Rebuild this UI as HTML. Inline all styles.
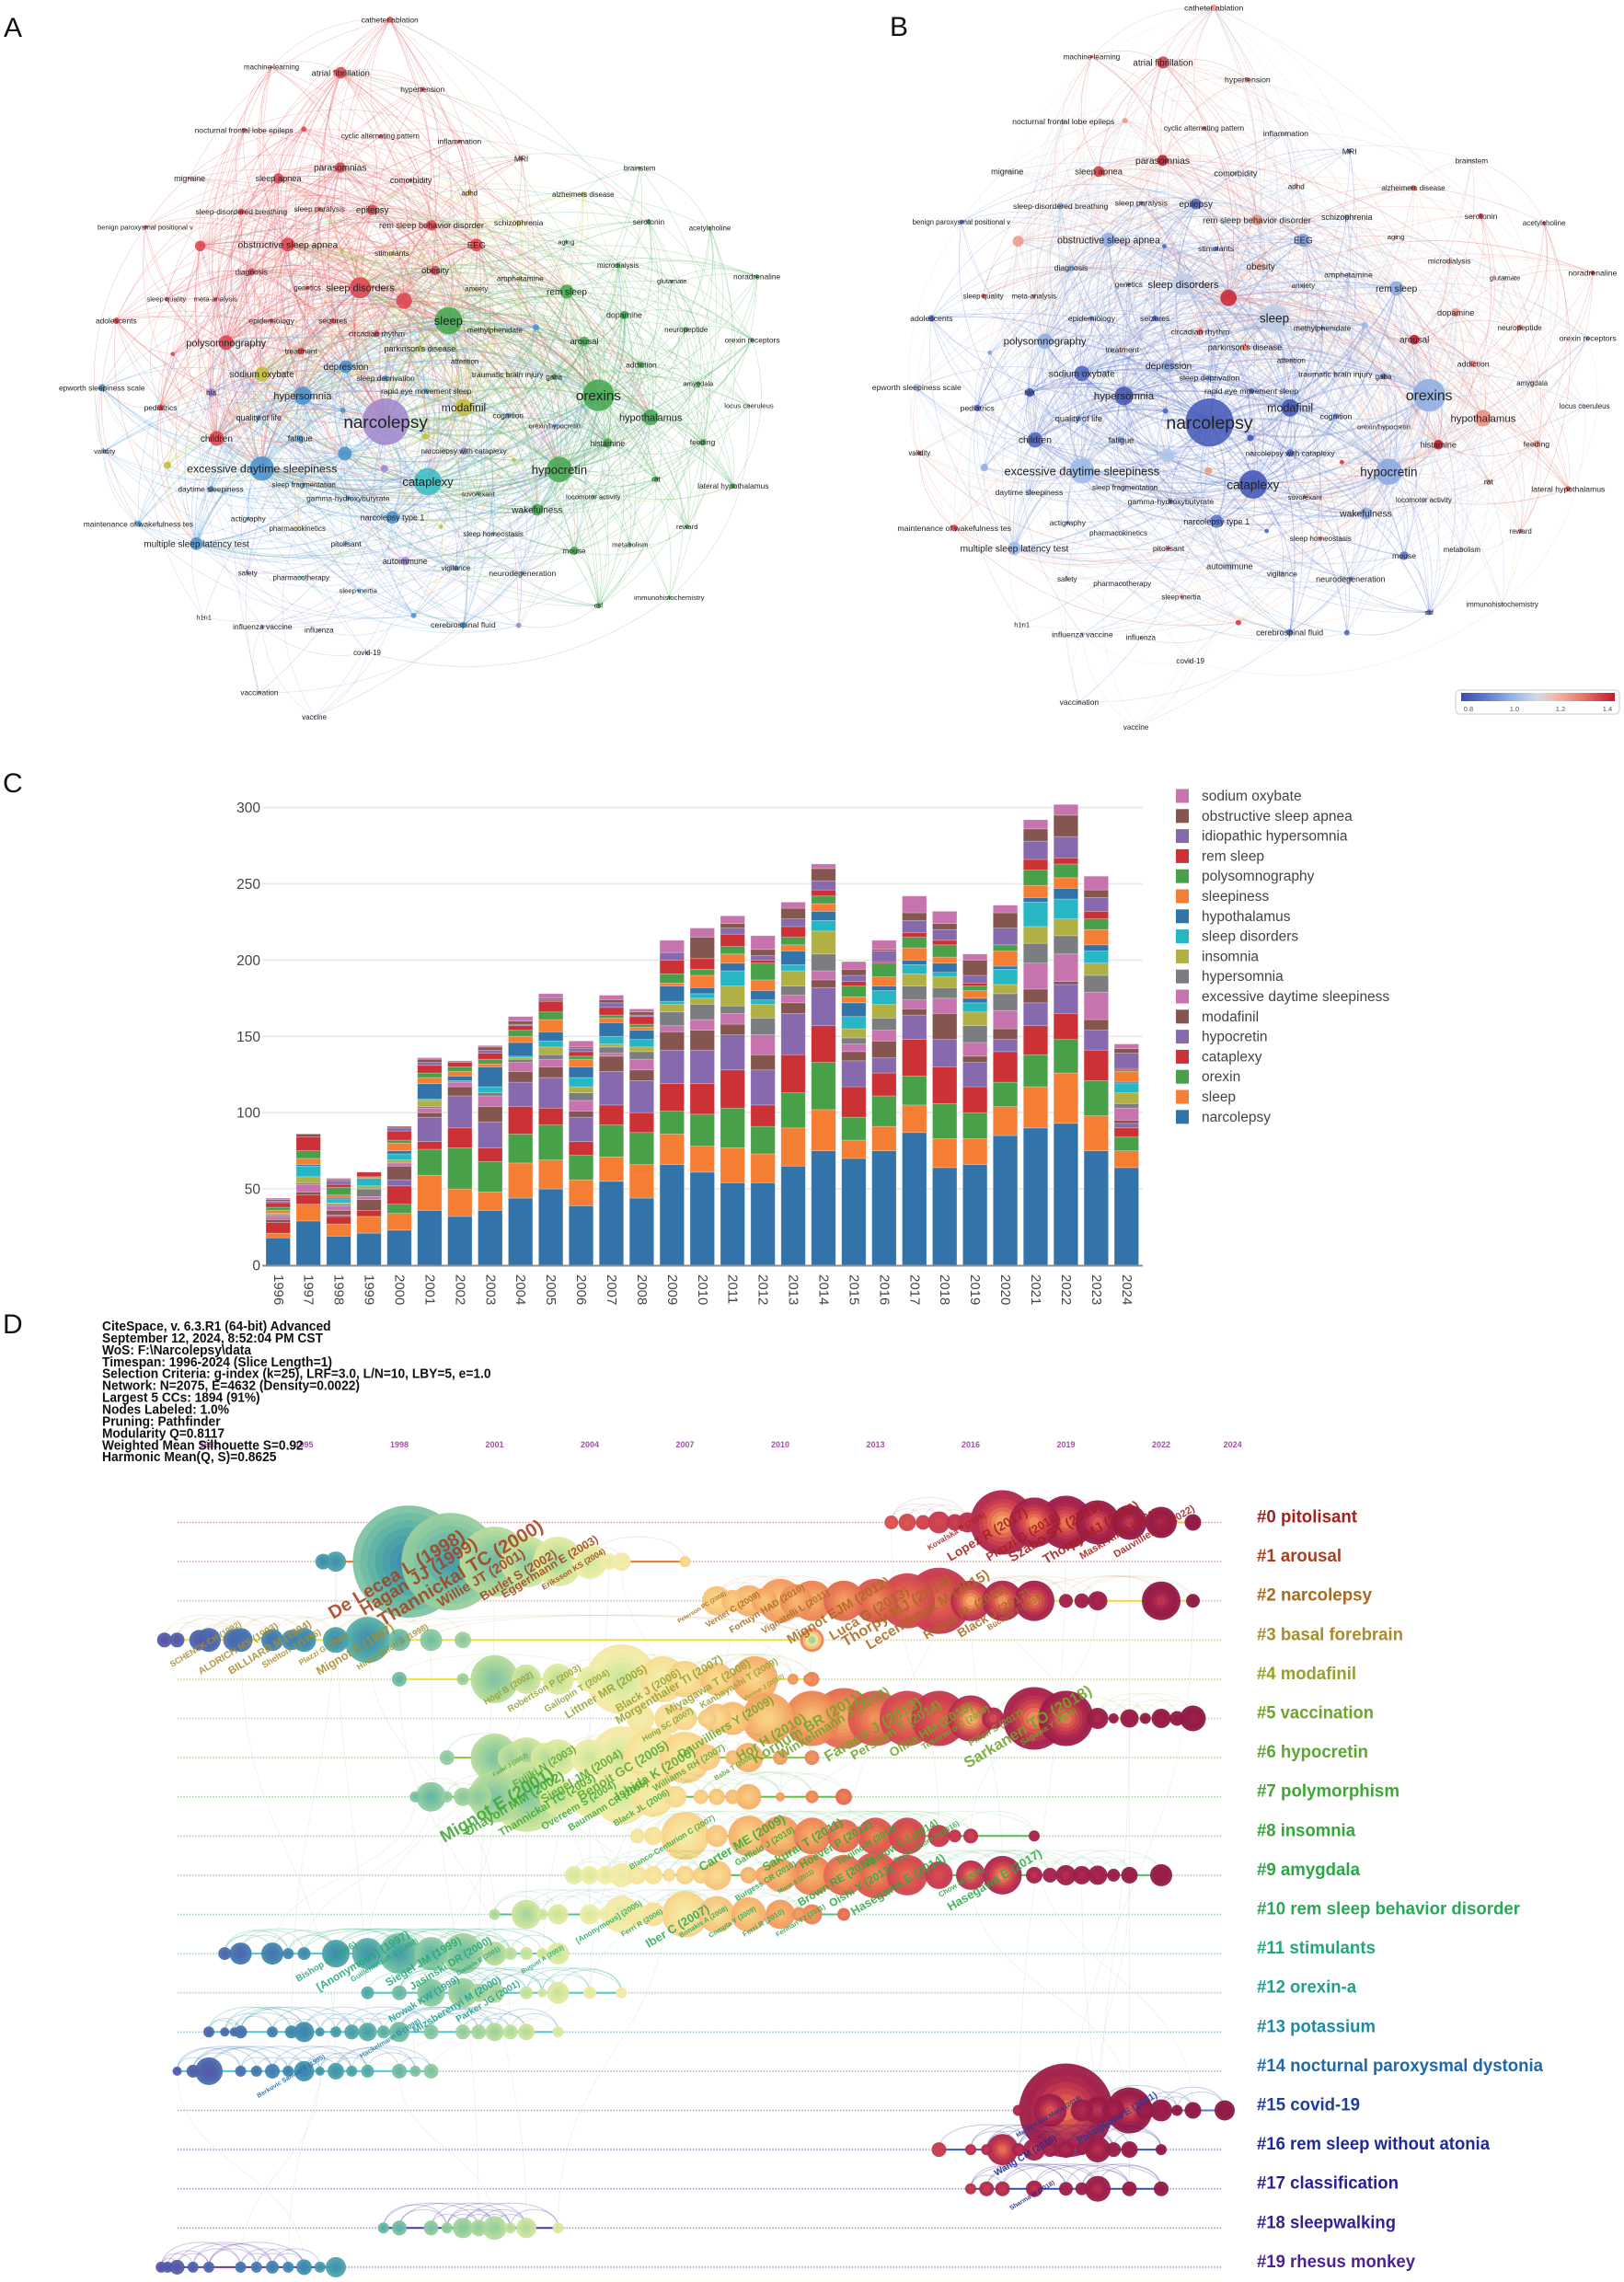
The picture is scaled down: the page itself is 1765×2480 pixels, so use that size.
<!DOCTYPE html>
<html lang="en">
<head>
<meta charset="utf-8">
<title>Narcolepsy bibliometric figure</title>
<style>
html,body{margin:0;padding:0;background:#fff;}
#figure{display:block;width:1765px;height:2480px;font-family:"Liberation Sans",sans-serif;}
</style>
</head>
<body>
<svg id="figure" xmlns="http://www.w3.org/2000/svg" width="1765" height="2480" viewBox="0 0 1765 2480">
  <rect width="1765" height="2480" fill="#fff"/>
  <defs>
    <linearGradient id="overlayGradient" x1="0" x2="1" y1="0" y2="0">
      <stop offset="0" stop-color="#3b4cb0"/><stop offset=".17" stop-color="#5f7fd0"/><stop offset=".35" stop-color="#9bb9e8"/>
      <stop offset=".5" stop-color="#d3dbe5"/><stop offset=".62" stop-color="#f1b8a4"/><stop offset=".78" stop-color="#ea7c6e"/><stop offset="1" stop-color="#c4182e"/>
    </linearGradient>
  </defs>
  <text x="4" y="40" font-size="30" fill="#111">A</text>
  <text x="967" y="39" font-size="30" fill="#111">B</text>
  <text x="3" y="861" font-size="30" fill="#111">C</text>
  <text x="3" y="1449" font-size="30" fill="#111">D</text>
  <g id="panelA"></g>
  <g id="panelB"></g>
  <g id="colorbar">
    <rect x="1582" y="750" width="178" height="26" rx="5" fill="#fff" stroke="#dcdcdc" stroke-width="1.5"/>
    <rect x="1588" y="753" width="167" height="9" fill="url(#overlayGradient)"/>
    <text x="1596" y="773" font-size="7.5" text-anchor="middle" fill="#555">0.8</text>
    <text x="1646" y="773" font-size="7.5" text-anchor="middle" fill="#555">1.0</text>
    <text x="1696" y="773" font-size="7.5" text-anchor="middle" fill="#555">1.2</text>
    <text x="1747" y="773" font-size="7.5" text-anchor="middle" fill="#555">1.4</text>
  </g>
  <g id="panelC"></g>
  <g id="panelD"></g>
</svg>
<script>
/* ---------- Panel C data ---------- */
const years = [1996,1997,1998,1999,2000,2001,2002,2003,2004,2005,2006,2007,2008,2009,2010,2011,2012,2013,2014,2015,2016,2017,2018,2019,2020,2021,2022,2023,2024];
const yTicks = [0,50,100,150,200,250,300];
const narcolepsyCounts = [18,29,19,21,23,36,32,36,44,50,39,55,44,66,61,54,54,65,75,70,75,87,64,66,85,90,93,75,64];
const sleepCounts = [3,11,8,11,11,23,18,12,23,19,17,16,22,20,17,23,19,25,27,12,16,18,19,17,19,27,33,23,11];
const orexinCounts = [0,0,0,0,6,17,27,20,19,23,16,21,21,15,21,26,18,23,31,15,20,19,23,17,16,21,22,23,9];
const cataplexyCounts = [7,6,5,4,12,5,13,9,18,11,9,13,13,18,20,25,14,25,24,20,15,24,24,17,20,19,17,20,6];
const hypocretinCounts = [0,0,1,0,4,16,21,17,16,20,16,22,21,22,22,23,23,27,25,17,10,16,18,16,8,15,19,13,3];
const modafinilCounts = [2,2,3,7,9,3,6,10,7,7,4,10,7,12,13,7,10,7,5,6,11,4,17,4,7,9,2,7,2];
const edsCounts = [2,5,3,2,2,3,3,7,6,5,7,2,7,4,7,7,13,5,6,5,7,6,10,9,12,17,18,18,8];
const hypersomniaCounts = [1,1,1,5,0,1,0,2,2,3,5,4,5,9,10,5,11,6,11,4,8,9,7,11,11,13,12,11,3];
const insomniaCounts = [1,4,1,2,2,4,0,0,1,5,4,2,3,5,4,13,9,10,15,6,9,8,7,9,6,11,11,8,7];
const sleepDisordersCounts = [0,7,2,5,4,1,1,4,1,4,6,5,5,2,3,10,3,4,7,8,9,6,3,6,10,16,13,8,6];
const hypothalamusCounts = [0,1,1,0,2,10,3,13,9,6,7,9,6,10,4,5,6,9,6,9,3,3,6,3,2,3,7,4,1];
const sleepinessCounts = [2,4,2,1,5,4,3,2,4,8,5,3,2,2,8,6,7,4,5,4,6,8,4,5,10,8,7,10,7];
const polysomnographyCounts = [2,5,5,0,2,3,3,3,4,5,2,2,2,6,4,5,11,5,5,7,9,7,8,3,4,10,9,7,1];
const remSleepCounts = [3,9,2,3,6,5,3,4,3,7,3,5,5,9,7,8,2,7,4,3,1,3,3,2,0,7,4,5,1];
const idiopathicCounts = [1,0,2,0,2,2,0,2,1,1,2,3,1,5,0,4,3,5,6,4,7,8,7,5,11,12,14,9,10];
const osaCounts = [1,2,1,0,1,2,0,2,2,1,1,2,2,0,14,3,4,7,8,4,1,5,4,10,10,8,14,5,3];
const sodiumOxybateCounts = [1,0,1,0,0,1,1,1,3,3,4,3,2,8,6,5,9,4,3,5,6,11,8,4,5,6,7,9,3];
const seriesNames = ["narcolepsy","sleep","orexin","cataplexy","hypocretin","modafinil","excessive daytime sleepiness","hypersomnia","insomnia","sleep disorders","hypothalamus","sleepiness","polysomnography","rem sleep","idiopathic hypersomnia","obstructive sleep apnea","sodium oxybate"];
const seriesValues = [narcolepsyCounts,sleepCounts,orexinCounts,cataplexyCounts,hypocretinCounts,modafinilCounts,edsCounts,hypersomniaCounts,insomniaCounts,sleepDisordersCounts,hypothalamusCounts,sleepinessCounts,polysomnographyCounts,remSleepCounts,idiopathicCounts,osaCounts,sodiumOxybateCounts];

/* ---------- Panels A/B keyword data: label, map x, map y, weight, cluster, label size, average citation score ---------- */
const keywordNodes = [
["catheter ablation",738,42,6,"R",8,1.2],["atrial fibrillation",645,155,11,"R",9,1.35],["machine learning",514,143,3,"R",7.5,1.35],["hypertension",800,190,4,"R",8,1.3],
["nocturnal frontal lobe epileps",462,277,4,"R",8,1.0],["",575,275,5,"R",0,1.2],["cyclic alternating pattern",720,290,3,"R",7.5,1.35],["inflammation",870,301,3,"R",8,1.05],
["MRI",987,338,4,"R",8,.85],["parasomnias",644,357,10,"R",9.5,1.4],["migraine",359,380,2,"R",8.5,.95],["sleep apnea",527,380,10,"R",8.8,1.35],["comorbidity",778,384,3,"R",8.5,1.0],
["sleep-disordered breathing",457,451,6,"R",8,.98],["sleep paralysis",605,445,3,"R",8,.85],["epilepsy",705,447,10,"R",9.2,.85],["benign paroxysmal positional v",275,484,4,"R",7.2,.85],
["rem sleep behavior disorder",817,480,10,"R",8.8,1.22],["",379,524,10,"R",0,1.2],["obstructive sleep apnea",545,521,13,"R",9.8,.98],["EEG",902,522,12,"R",9,.95],
["diagnosis",476,579,7,"R",8,1.0],["obesity",824,576,9,"R",9,1.15],["genetics",582,613,3,"R",7.5,.88],["sleep disorders",682,613,20,"R",10.5,1.05],["",765,641,15,"R",0,1.38],
["sleep quality",315,637,4,"R",7.3,1.35],["meta-analysis",408,637,3,"R",7.3,1.3],["adolescents",220,683,6,"R",8,.85],["epidemiology",514,683,4,"R",8,.9],["seizures",630,683,5,"R",8,.82],
["circadian rhythm",713,711,6,"R",8,1.28],["polysomnography",428,730,14,"R",10.5,.98],["treatment",570,748,7,"R",8,1.12],["pediatrics",304,868,6,"R",8,.85],["children",410,934,14,"R",9.5,.85],["",327,754,4,"R",0,.95],
["sleep",849,683,26,"G",12.5,1.05],["brainstem",1211,358,3,"G",7.5,1.12],["serotonin",1228,472,5,"G",8,1.33],["acetylcholine",1344,486,3,"G",7.5,1.4],["aging",1072,515,3,"G",7,1.18],
["microdialysis",1170,565,4,"G",7.5,1.15],["glutamate",1272,599,3,"G",7,1.0],["noradrenaline",1433,589,4,"G",8,1.38],["rem sleep",1073,621,13,"G",9.5,.97],["dopamine",1182,671,8,"G",8.5,1.2],
["neuropeptide",1299,702,5,"G",7.7,1.3],["orexin receptors",1424,724,4,"G",8,.95],["arousal",1106,727,9,"G",9,1.4],["addiction",1214,777,6,"G",8,1.25],["gaba",1049,803,5,"G",7.5,.85],
["amygdala",1322,817,4,"G",7.2,1.15],["locus coeruleus",1418,864,2,"G",7.3,1.02],["orexins",1133,842,30,"G",14.5,.98],["hypothalamus",1232,889,15,"G",10.5,1.22],["histamine",1150,944,9,"G",8.5,1.4],
["feeding",1330,942,6,"G",8,1.22],["hypocretin",1059,1000,24,"G",12.5,.97],["rat",1242,1020,5,"G",8,1.2],["lateral hypothalamus",1388,1035,5,"G",8,1.33],["locomotor activity",1123,1058,3,"G",7.3,1.0],
["wakefulness",1017,1086,11,"G",9.5,.97],["reward",1301,1122,4,"G",7.3,1.3],["mouse",1087,1173,8,"G",8,.88],["metabolism",1193,1160,3,"G",7.3,1.02],["immunohistochemistry",1267,1273,3,"G",7.3,1.03],
["csf",1133,1290,5,"G",7,.85],["suvorexant",905,1052,3,"G",7,1.35],
["adhd",889,411,4,"Y",7.5,1.15],["alzheimers disease",1104,414,5,"Y",7.5,1.33],["schizophrenia",982,474,5,"Y",8.3,.95],["stimulants",742,539,4,"Y",8,.85],["",647,534,4,"Y",0,.85],
["amphetamine",985,593,4,"Y",8,1.0],["anxiety",902,615,3,"Y",7.5,.98],["methylphenidate",937,703,3,"Y",7.8,.85],["parkinson's disease",795,743,6,"Y",8.5,1.25],["attention",880,770,3,"Y",7.5,.95],
["traumatic brain injury",961,798,3,"Y",8,.95],["sodium oxybate",496,797,14,"Y",9.5,.85],["modafinil",878,868,16,"Y",11.5,.82],["",805,930,6,"Y",0,.82],["",973,980,4,"Y",0,1.35],["",317,991,7,"Y",0,.98],
["",835,1122,4,"Y",0,.85],["pharmacokinetics",563,1126,3,"Y",7.5,1.05],
["epworth sleepiness scale",193,826,7,"B",8,1.03],["depression",655,781,12,"B",9.5,.97],["sleep deprivation",730,806,5,"B",8,.95],["rapid eye movement sleep",807,833,5,"B",8,.85],
["hypersomnia",573,843,17,"B",10.5,.82],["quality of life",490,890,5,"B",8.5,.9],["",649,874,5,"B",0,.85],["cognition",962,885,5,"B",8,.9],["orexin/hypocretin",1050,907,3,"B",7,1.05],
["fatigue",568,934,6,"B",8.5,.95],["validity",198,961,4,"B",7.2,1.35],["excessive daytime sleepiness",496,998,23,"B",11.8,1.0],["",653,966,13,"B",0,1.03],["",1015,697,6,"B",0,1.0],
["sleep fragmentation",575,1032,3,"B",7.5,1.0],["daytime sleepiness",399,1042,6,"B",8,1.02],["gamma-hydroxybutyrate",659,1061,4,"B",8,.85],["narcolepsy type 1",743,1102,12,"B",8.5,.88],
["maintenance of wakefulness tes",262,1116,6,"B",8,1.35],["multiple sleep latency test",372,1158,12,"B",9.5,1.0],["actigraphy",470,1105,3,"B",7.8,.85],["pitolisant",655,1158,3,"B",8,1.38],
["sleep homeostasis",934,1137,3,"B",7.5,1.3],["vigilance",863,1210,5,"B",7.8,1.02],["sleep inertia",678,1258,3,"B",7.3,1.3],["cerebrospinal fluid",877,1331,6,"B",8.3,.85],["",783,1311,5,"B",0,1.35],
["cataplexy",810,1026,26,"C",12.5,.82],["pharmacotherapy",570,1230,3,"C",7.5,1.05],
["narcolepsy",730,898,44,"P",18,.83],["hla",400,836,8,"P",8,.82],["narcolepsy with cataplexy",878,961,7,"P",7.8,.85],["",728,998,7,"P",0,1.2],["autoimmune",767,1195,8,"P",8.5,1.05],
["neurodegeneration",989,1221,4,"P",8.3,.9],["safety",469,1221,3,"P",7.5,1.2],["h1n1",386,1315,2,"P",7,1.03],["influenza vaccine",497,1335,4,"P",8,1.03],["influenza",604,1342,2,"P",7.5,1.25],
["",982,1332,5,"P",0,.85],["covid-19",695,1390,3,"P",7.5,1.05],["vaccination",491,1475,3,"P",7.8,1.02],["vaccine",595,1527,2,"P",7.5,1.02]
];
const clusterEdge = {R:"#e8606a",G:"#58b368",B:"#64a4dc",Y:"#d2cc5a",C:"#4cc4cc",P:"#ab95d4"};
const clusterNode = {R:"#dc4450",G:"#46a851",B:"#4a92cc",Y:"#c4bc3c",C:"#3cbcc4",P:"#a088cc"};

/* ---------- Panel D data ---------- */
const clusterNames = ["#0 pitolisant","#1 arousal","#2 narcolepsy","#3 basal forebrain","#4 modafinil","#5 vaccination","#6 hypocretin","#7 polymorphism","#8 insomnia","#9 amygdala","#10 rem sleep behavior disorder","#11 stimulants","#12 orexin-a","#13 potassium","#14 nocturnal paroxysmal dystonia","#15 covid-19","#16 rem sleep without atonia","#17 classification","#18 sleepwalking","#19 rhesus monkey"];
const clusterLabelWidths = [109,92,125,159,108,127,121,155,107,112,286,129,108,129,311,112,253,154,151,172];
const clusterColors = ["#a51f1f","#a5411f","#a86a20","#a88c2b","#96a02c","#70a52b","#5aa82f","#3da832","#33a838","#2aa845","#2aa85a","#22a878","#1fa08f","#1f8ba3","#1f69a8","#1f3c9a","#1f2a96","#281f96","#322296","#4d2296"];
const clusterLineColors = ["#f4c04a","#f07a20","#f4d83c","#f0e040","#f0e040","#c8d83c","#80c83c","#60c040","#50c050","#50c060","#50c090","#50c8c8","#50c8d0","#50c8d8","#50c8e0","#4a80d0","#3a5fb8","#3050b0","#443aa0","#6a3aa0"];
const timelineYearLabels = [1992,1995,1998,2001,2004,2007,2010,2013,2016,2019,2022,2024.25];
const timelineNodes = [
[[2013.5,7.5],[2014,9.5],[2014.5,8],[2015,12],[2015.5,9],[2015.9,11],[2017,35],[2018,27],[2019,29],[2020,24],[2021,19],[2022,17],[2023,9]],
[[1995.6,8.5],[1996,11],[1998.3,61],[1999.6,53],[2001,38],[2002,28],[2003,27],[2004,19],[2004.6,9],[2005,10],[2007,6]],
[[2008,16],[2008.5,12],[2009,17],[2009.5,14],[2010,24],[2010.5,18],[2011,22],[2012,22],[2013,24],[2014,30],[2015,36],[2016,22],[2017,22],[2018,22],[2019,7.5],[2019.5,8],[2020,10.5],[2022,21],[2023,7.5]],
[[1990.6,8],[1991,8],[1991.7,11],[1992,13],[1992.8,12],[1993,13],[1994,12],[1994.6,11],[1995,13],[1996,14],[1997,25],[1998,12],[1999,12],[2000,9],[2011,13,15]],
[[1998,8],[2000,6.5],[2001,26],[2002,16],[2003,17],[2004,14],[2005,38],[2006.3,25],[2007,20],[2008,18],[2009.2,25],[2010.4,6],[2010.9,6],[2011,8]],
[[2005.6,15],[2006.5,16],[2007,13],[2007.7,10],[2008,16],[2008.5,18],[2009.6,28],[2011,30],[2012,33],[2013,30],[2014,30],[2015,30],[2016,25],[2016.7,12],[2018,34],[2019,30],[2020,11.5],[2020.5,5.5],[2021,10],[2021.5,6],[2022,10.5],[2022.5,8],[2023,14]],
[[1999.5,8],[2001,26],[2001.5,14],[2002,22],[2002.6,16],[2003,20],[2004,20],[2005,34],[2006,32],[2007,28],[2007.7,14],[2008.5,8],[2009,16],[2010,8],[2011,8]],
[[1998.5,6],[1999,16],[1999.5,6],[2000,10],[2000.5,14],[2001,28],[2002,38],[2003,20],[2004,22],[2005,30],[2006,22],[2006.7,12],[2007.5,8],[2008,9],[2008.5,8],[2009,14],[2010,5],[2011,7],[2012,9]],
[[2005.5,8],[2006,10],[2007,26],[2008,12],[2009,22],[2010,22],[2011,20],[2012,18],[2013,20],[2014,20],[2015,12],[2015.5,7],[2016,8],[2018,6]],
[[2003.5,10],[2004,10],[2004.5,10],[2005,13],[2005.5,10],[2006,10],[2006.5,7],[2007,10],[2007.5,9],[2008,16],[2009,9],[2009.5,10],[2010,18],[2011,22],[2012,22],[2013,25],[2014,22],[2015,15],[2016,16],[2017,21],[2018,9],[2018.5,8],[2019,11],[2019.5,10],[2020,10.5],[2020.5,7],[2021,9],[2022,12]],
[[2001,6],[2002,16],[2002.5,6],[2003,11],[2004,11],[2004.5,8],[2005,20],[2005.5,12],[2006,13],[2007,25],[2008,20],[2009,19],[2010,16],[2010.6,8],[2011,11],[2012,7]],
[[1992.5,7],[1993,12],[1994,12],[1994.5,6],[1995,7],[1996,15],[1997,17],[1998,22],[1999,18],[2000,22],[2001,13],[2001.5,7],[2002,7],[2002.5,6],[2003,12]],
[[1997,7],[1998,8],[1999,15],[2000,16],[2000.5,10],[2001,11],[2002,7],[2002.5,5],[2003,12],[2004,7],[2005,6]],
[[1992,6],[1992.5,5],[1992.8,5],[1993,7],[1994,6],[1994.6,7],[1995,11],[1995.5,5],[1996,6],[1996.5,8],[1997,10],[1997.5,7],[1998,11],[1999,8],[2000,8],[2000.5,8],[2001,10],[2001.5,8],[2002,9],[2003,6]],
[[1991,5],[1991.5,7],[1992,15],[1993,6],[1993.5,6],[1994,8],[1994.5,6],[1995,11],[1995.5,5],[1996,9],[1996.5,6],[1997,7],[1998,8],[1998.5,6],[1999,8]],
[[2017.5,6],[2018.5,18],[2019,51],[2019.5,12],[2020,15],[2020.5,12],[2021,25],[2021.5,10],[2022,12],[2022.5,6],[2023,9],[2024,11]],
[[2015,8],[2016,6],[2016.5,6],[2017,17],[2017.5,7],[2018,12],[2018.5,8],[2019,9],[2019.5,6],[2020,14],[2020.5,8],[2021,9],[2022,6]],
[[2016,6],[2016.5,8],[2017,8],[2018,9],[2019,7.5],[2019.5,7],[2020,14],[2021,8],[2022,8]],
[[1997.5,6],[1998,8],[1999,8],[1999.5,6],[2000,11],[2000.5,9],[2001,13],[2001.5,6],[2002,11],[2003,6]],
[[1990.5,6],[1990.7,6],[1991,8],[1991.5,6],[1992,6],[1993,6],[1993.5,6],[1994,7],[1994.5,6],[1995,8.5],[1995.5,6],[1996,11]]
];
const citationLabels = [
[0,"Kovalska P (2016)",1010,1685,8.5],[0,"Lopez R (2017)",1033,1697,14],[0,"Plazzi G (2018)",1075,1697,13],[0,"Szabo ST (2019)",1100,1698,15],[0,"Thorpy MJ (2020)",1137,1700,14.5],[0,"Maski Kiran (2021)",1176,1695,11],[0,"Dauvilliers Y (2022)",1213,1693,11],
[1,"De Lecea L (1998)",362,1760,20],[1,"Hagan JJ (1999)",396,1756,19],[1,"Thannickal TC (2000)",416,1768,20.5],[1,"Willie JT (2001)",479,1747,15],[1,"Burlet S (2002)",525,1740,13.5],[1,"Eggermann E (2003)",548,1737,12.5],[1,"Eriksson KS (2004)",591,1728,8.7],
[2,"Peterson PC (2008)",738,1764,6.6],[2,"Vernet C (2009)",769,1769,9.3],[2,"Fortuyn HAD (2010)",795,1775,10],[2,"Vignatelli L (2011)",830,1776,10],[2,"Mignot EJM (2012)",859,1787,14.5],[2,"Luca G (2013)",905,1783,15],[2,"Thorpy MJ (2014)",919,1790,16.5],[2,"Lecendreux M (2015)",945,1793,15.5],[2,"Rocca FL (2016)",1007,1782,13.5],[2,"Black J (2017)",1044,1780,13.5],[2,"Büchele F (2018)",1075,1772,8.7],
[3,"SCHENCK CH (1992)",187,1812,9],[3,"ALDRICH MS (1993)",218,1820,10.5],[3,"BILLIARD M (1994)",251,1820,11.5],[3,"Shelton J (1995)",287,1813,9.5],[3,"Plazzi G (1996)",327,1810,8.5],[3,"Mignot E (1997)",347,1821,13],[3,"Hinze-Selch D (1998)",390,1815,9],
[4,"Högl B (2002)",528,1853,9.5],[4,"Robertson P (2003)",554,1861,10],[4,"Gallopin T (2004)",594,1861,10],[4,"Littner MR (2005)",617,1868,12.5],[4,"Black J (2006)",672,1861,12],[4,"Morgenthaler TI (2007)",672,1874,12.5],[4,"Miyagawa T (2008)",726,1864,12],[4,"Kanbayashi T (2009)",763,1857,10],[4,"Vienne J (2010)",809,1849,7],
[5,"Hong SC (2007)",700,1893,8.5],[5,"Dauvilliers Y (2009)",740,1911,13],[5,"Hor H (2010)",804,1914,14.5],[5,"Kornum BR (2011)",821,1917,16],[5,"Winkelmann J (2012)",849,1912,14],[5,"Faraco J (2013)",900,1915,16.5],[5,"Persson T (2014)",928,1913,14],[5,"Ollila HM (2015)",970,1910,13.8],[5,"Tesoriero C (2016)",1004,1902,9.7],[5,"Pillen S (2017)",1055,1898,10],[5,"Sarkanen TO (2018)",1052,1922,17],[5,"Sagawa Y (2018)",1111,1897,9],
[6,"Fadel J (2002)",537,1931,6.5],[6,"Fujiki N (2003)",560,1943,11.5],[6,"Siegel JM (2004)",591,1960,13],[6,"Benoit GC (2005)",631,1957,14],[6,"Ishida K (2006)",672,1957,14],[6,"Williams RH (2007)",712,1947,10],[6,"Baba T (2008)",778,1935,7.5],
[7,"Mignot E (2001)",483,2003,19],[7,"Ohayon MM (2002)",508,1996,14],[7,"Thannickal TC (2003)",545,1996,12],[7,"Overeem S (2004)",591,1989,11],[7,"Baumann CR (2005)",620,1990,10.5],[7,"Black JL (2006)",669,1985,9.5],
[8,"Blanco-Centurion C (2007)",686,2032,8.5],[8,"Carter ME (2009)",763,2034,13.5],[8,"Gaffield J (2010)",801,2028,9.5],[8,"Sakurai T (2011)",832,2034,13],[8,"Hoever P (2012)",872,2031,12],[8,"Toujino N (2013)",911,2027,9.7],[8,"Winrow CJ (2014)",942,2030,11],[8,"Bonaventure P (2016)",973,2025,8],
[9,"Burgess CR (2010)",801,2066,8.5],[9,"Morin S (2011)",847,2058,6.5],[9,"Brown RE (2012)",870,2072,12],[9,"Oishi Y (2013)",904,2073,12],[9,"Hasegawa E (2014)",928,2082,13],[9,"Chow M (2016)",1022,2062,8],[9,"Hasegawa E (2017)",1033,2077,13],
[10,"[Anonymous] (2005)",628,2112,8.5],[10,"Ferri R (2006)",677,2105,8],[10,"Iber C (2007)",705,2117,13],[10,"Bonakis A (2008)",740,2106,7.5],[10,"Compta Y (2009)",772,2106,7.5],[10,"Ferri R (2010)",809,2105,8],[10,"Ferman TJ (2011)",845,2105,7.5],
[11,"Bishop C (1996)",324,2154,10],[11,"[Anonymous] (1997)",347,2164,12],[11,"Guilleminault C (1998)",383,2154,8],[11,"Siegel JM (1999)",422,2159,12],[11,"Jasinski DR (2000)",448,2163,11.5],[11,"Daniels E (2001)",498,2147,7],[11,"Buguet A (2003)",568,2145,7],
[12,"Nowak KW (1999)",425,2198,10.5],[12,"Mizsberenyi M (2000)",451,2210,11],[12,"Parker JG (2001)",498,2198,10],
[13,"Hackelmann D (1998)",393,2237,7.5],[14,"Berkovic Samuel F (1995)",281,2280,7],
[15,"Marse Anne Marie (2019)",1106,2323,7],[15,"Postiglione E (2021)",1173,2330,10.5],[16,"Wang CM (2018)",1083,2365,10],[17,"Sharma M (2018)",1099,2402,7]
];
const headerLines = [["CiteSpace, v. 6.3.R1 (64-bit) Advanced",248.6],["September 12, 2024, 8:52:04 PM CST",240],["WoS: F:\\Narcolepsy\\data",162],["Timespan: 1996-2024 (Slice Length=1)",250],["Selection Criteria: g-index (k=25), LRF=3.0, L/N=10, LBY=5, e=1.0",422.5],["Network: N=2075, E=4632 (Density=0.0022)",280],["Largest 5 CCs: 1894 (91%)",171.6],["Nodes Labeled: 1.0%",138],["Pruning: Pathfinder",128.6],["Modularity Q=0.8117",133],["Weighted Mean Silhouette S=0.92",218.7],["Harmonic Mean(Q, S)=0.8625",189.4]];

/* ---------- helpers ---------- */
const NS = "http://www.w3.org/2000/svg";
function mk(tag, attrs, parent){
  const el = document.createElementNS(NS, tag);
  for (const k in attrs) el.setAttribute(k, attrs[k]);
  parent.appendChild(el);
  return el;
}
function slug(s){ return s.toLowerCase().replace(/[^a-z0-9]+/g,'-').replace(/^-|-$/g,''); }
function pairHash(a,b){ let h=(a*73856093 ^ b*19349663)>>>0; h=(h^(h>>>13))*1274126177>>>0; h=(h^(h>>>16))>>>0; return (h%10000)/10000; }
function hexToRgb(h){ return [parseInt(h.slice(1,3),16),parseInt(h.slice(3,5),16),parseInt(h.slice(5,7),16)]; }
function ramp(stops, v){
  if (v<=stops[0][0]) return stops[0][1];
  for (let i=1;i<stops.length;i++){
    if (v<=stops[i][0]){
      const t=(v-stops[i-1][0])/(stops[i][0]-stops[i-1][0]);
      const a=hexToRgb(stops[i-1][1]), b=hexToRgb(stops[i][1]);
      return "rgb("+a.map((c,k)=>Math.round(c+(b[k]-c)*t)).join(",")+")";
    }
  }
  return stops[stops.length-1][1];
}

/* ---------- Panels A and B ---------- */
const overlayStops = [[.8,"#3b4cb0"],[.9,"#5f7fd0"],[1,"#9bb9e8"],[1.08,"#d3dbe5"],[1.15,"#f1b8a4"],[1.25,"#ea7c6e"],[1.4,"#c4182e"]];
const nodePos = keywordNodes.map(n=>({x:n[1]/1.742,y:n[2]/1.96,r:n[3]/1.742}));
const edgePairs = [];
(function(){
  const deg = keywordNodes.map(()=>0), seen = {};
  function add(i,j){ const k=i+"_"+j; if(seen[k]) return; seen[k]=1; edgePairs.push([i,j]); deg[i]++; deg[j]++; }
  for (let i=0;i<keywordNodes.length;i++) for (let j=i+1;j<keywordNodes.length;j++){
    const a=keywordNodes[i], b=keywordNodes[j];
    const d=Math.hypot(nodePos[i].x-nodePos[j].x,nodePos[i].y-nodePos[j].y);
    const same=a[4]===b[4]?2.8:1;
    const p=Math.min(.95,.0085*a[3]*b[3]*same/(1+Math.pow(d/145,1.6)));
    if (pairHash(i+1,j+1)<p) add(i,j);
  }
  for (let i=0;i<keywordNodes.length;i++){
    const near=keywordNodes.map((n,j)=>[Math.hypot(nodePos[i].x-nodePos[j].x,nodePos[i].y-nodePos[j].y)/(1+n[3]/12),j]).filter(o=>o[1]!==i).sort((a,b)=>a[0]-b[0]);
    let c=0; while(deg[i]<4 && c<near.length){ const j=near[c++][1]; add(Math.min(i,j),Math.max(i,j)); }
  }
})();
function edgePath(ax,ay,bx,by,cx,cy){
  const mx=(ax+bx)/2,my=(ay+by)/2,dx=bx-ax,dy=by-ay;
  let nx=-dy*.24,ny=dx*.24;
  if (((mx+nx-cx)**2+(my+ny-cy)**2)<((mx-nx-cx)**2+(my-ny-cy)**2)){nx=-nx;ny=-ny;}
  return "M"+ax.toFixed(1)+" "+ay.toFixed(1)+"Q"+(mx+nx).toFixed(1)+" "+(my+ny).toFixed(1)+" "+bx.toFixed(1)+" "+by.toFixed(1);
}
function drawNetwork(parent, sx, ox, oy, overlay){
  const px=p=>p.x*sx+ox, py=p=>p.y*sx+oy;
  const hub=nodePos[keywordNodes.findIndex(n=>n[0]==="narcolepsy")];
  const cx=px(hub), cy=py(hub);
  const gE=mk("g",{},parent);
  
  
  edgePairs.forEach(pair=>{
    const i=pair[0],j=pair[1],a=keywordNodes[i],b=keywordNodes[j];
    const src=a[3]<=b[3]?a:b;
    const col=overlay?ramp(overlayStops,(a[6]+b[6])/2):clusterEdge[src[4]];
    const w=Math.min(2.2,.55+a[3]*b[3]/550);
    const e=mk("path",{d:edgePath(px(nodePos[i]),py(nodePos[i]),px(nodePos[j]),py(nodePos[j]),cx,cy),fill:"none",stroke:col,"stroke-width":w.toFixed(2),"stroke-opacity":overlay?.3:.34},gE);
    
    
  });
  const order=keywordNodes.map((n,i)=>i);
  order.forEach(i=>{
    const n=keywordNodes[i],p=nodePos[i];
    const c=mk("circle",{cx:px(p).toFixed(1),cy:py(p).toFixed(1),r:(p.r*sx).toFixed(1),fill:overlay?ramp(overlayStops,n[6]):clusterNode[n[4]],"fill-opacity":.88},parent);
    
    
  });
  order.forEach(i=>{
    const n=keywordNodes[i],p=nodePos[i];
    if(!n[0]) return;
    const fs=n[5]*sx*1.05;
    const t=mk("text",{x:px(p).toFixed(1),y:(py(p)+fs*.35).toFixed(1),"font-size":fs.toFixed(1),"text-anchor":"middle",fill:"#222"},parent);
    t.textContent=n[0];
    
    
  });
}
drawNetwork(document.getElementById('panelA'),1,0,0,false);
drawNetwork(document.getElementById('panelB'),1.032,882,-13.7,true);

/* ---------- Panel C ---------- */
(function(){
  const g=document.getElementById('panelC');
  const colors=["#3274a9","#f47e34","#48a049","#cb3135","#8769ae","#85554f","#c774ae","#7c7d80","#b0b044","#27b6c4","#3274a9","#f47e34","#48a049","#cb3135","#8769ae","#85554f","#c774ae"];
  const xBand=i=>289+32.93*i, bandW=26.5;
  const yVal=v=>1375-v*1.658;
  yTicks.forEach(t=>{
    if(t>0){
      const l=mk("line",{x1:285,x2:1242,y1:yVal(t),y2:yVal(t),stroke:"#e8e8e4","stroke-width":1.6},g);
      
      
    }
    const tx=mk("text",{x:283,y:yVal(t)+5.5,"font-size":15.5,"text-anchor":"end",fill:"#444"},g);
    tx.textContent=t;
    
    
  });
  years.forEach((yr,i)=>{
    let sum=0;
    seriesValues.forEach((vals,s)=>{
      const v=vals[i];
      if(v>0){
        const r=mk("rect",{x:xBand(i),y:yVal(sum+v),width:bandW,height:yVal(sum)-yVal(sum+v),fill:colors[s],stroke:"#fff","stroke-opacity":.35,"stroke-width":.7},g);
        
        
      }
      sum+=v;
    });
    const cx=xBand(i)+bandW/2-4.5;
    const t=mk("text",{x:cx,y:1385,"font-size":15,fill:"#444",transform:"rotate(90 "+cx+" 1385)"},g);
    t.textContent=yr;
    
    
  });
  const axis=mk("line",{x1:285,x2:1242,y1:1375.5,y2:1375.5,stroke:"#8a8f94","stroke-width":2},g);
  
  
  const legendOrder=seriesNames.map((n,i)=>i).reverse();
  legendOrder.forEach((s,k)=>{
    const y=865+k*21.8;
    const sw=mk("rect",{x:1278,y:y-7.5,width:14,height:15,fill:colors[s]},g);
    
    
    const t=mk("text",{x:1306,y:y+5,"font-size":15.5,fill:"#444"},g);
    t.textContent=seriesNames[s];
    
    
  });
})();

/* ---------- Panel D ---------- */
(function(){
  const g=document.getElementById('panelD');
  const xYear=y=>434+34.5*(y-1998);
  const yRow=i=>1654.5+42.6*i;
  const yearStops=[[1990,"#5b4ea6"],[1993,"#4a6fb0"],[1995,"#3f8bb0"],[1997,"#4fa8a8"],[1999,"#7fc4a2"],[2001,"#a9d69c"],[2003,"#d5e89c"],[2005,"#f2edab"],[2007,"#f9dc92"],[2009,"#f7bd74"],[2011,"#f0935a"],[2013,"#e0604e"],[2015,"#cd4050"],[2017,"#b02a4e"],[2019,"#a01f4a"],[2024,"#8a1844"]];

  timelineYearLabels.forEach(y=>{
    const t=mk("text",{x:xYear(y),y:1573,"font-size":9,"font-weight":"bold","text-anchor":"middle",fill:"#a64fa8"},g);
    t.textContent=Math.floor(y);
    
    
  });
  headerLines.forEach((l,i)=>{
    const t=mk("text",{x:111,y:1446+i*12.93,"font-size":14.5,"font-weight":"bold",fill:"#111",textLength:l[1],lengthAdjust:"spacingAndGlyphs"},g);
    t.textContent=l[0];
    
    
  });
  clusterNames.forEach((n,i)=>{
    const d=mk("line",{x1:193,x2:1329,y1:yRow(i),y2:yRow(i),stroke:clusterColors[i],"stroke-opacity":.42,"stroke-width":1.6,"stroke-dasharray":"1.6 1.6"},g);
    
    
  });
  /* faint cross-cluster citation links */
  const links=mk("g",{},g);
  
  
  timelineNodes.forEach((row,i)=>{
    row.forEach((n,k)=>{
      if(pairHash(i+3,k+7)>.8) return;
      const j=(i+1+Math.floor(pairHash(k+11,i+5)*9))%20;
      const other=timelineNodes[j]; const m=other[Math.floor(pairHash(k+2,j+9)*other.length)];
      if(Math.abs(m[0]-n[0])>5) return;
      const x1=xYear(n[0]),x2=xYear(m[0]),y1=yRow(i),y2=yRow(j);
      const l=mk("path",{d:"M"+x1+" "+y1+"C"+x1+" "+(y1+y2)/2+" "+x2+" "+(y1+y2)/2+" "+x2+" "+y2,fill:"none",stroke:"#dedede","stroke-width":.7,"stroke-opacity":.55},links);
      
      
    });
  });
  timelineNodes.forEach((row,i)=>{
    const y=yRow(i);
    const line=mk("line",{x1:xYear(row[0][0]),x2:xYear(row[row.length-1][0]),y1:y,y2:y,stroke:clusterLineColors[i],"stroke-width":2},g);
    
    
    row.forEach((n,k)=>{
      [2,3,5].forEach(step=>{
        const m=row[k+step];
        if(!m||n[1]>22||m[1]>22) return;
        if(pairHash(i*31+k+1,step+2)>.7) return;
        const x1=xYear(n[0]),x2=xYear(m[0]);
        const h=Math.min(36,(x2-x1)*.4+6);
        const a=mk("path",{d:"M"+x1+" "+y+"C"+x1+" "+(y-h)+" "+x2+" "+(y-h)+" "+x2+" "+y,fill:"none",stroke:clusterColors[i],"stroke-opacity":i>=11?.26:.12,"stroke-width":1},g);
        
        
      });
    });
    row.slice().sort((a,b)=>b[1]-a[1]).forEach(n=>{
      const yr=n[0], r=n[1];
      const span=n[2]||(yr>=2016?Math.min(9,1+r/3):Math.min(4.5,1+r/14));
      const cx=xYear(yr);
      const rings=Math.max(2,Math.min(7,Math.ceil(r/4)));
      const node=mk("g",{},g);
      
      
      for(let q=0;q<rings;q++){
        const t=q/rings;
        const c=mk("circle",{cx:cx,cy:y,r:(r*(1-t*.92)).toFixed(1),fill:ramp(yearStops,yr+.6-span*t),"fill-opacity":q===0?.95:.8},node);
        
        
      }
    });
  });
  citationLabels.forEach(l=>{
    const t=mk("text",{x:l[2],y:l[3],"font-size":l[4],"font-weight":"bold",fill:clusterColors[l[0]],"fill-opacity":.88,transform:"rotate(-31 "+l[2]+" "+l[3]+")"},g);
    t.textContent=l[1];
    
    
  });
  clusterNames.forEach((n,i)=>{
    const t=mk("text",{x:1366,y:yRow(i),"font-size":19,"font-weight":"bold",fill:clusterColors[i],textLength:clusterLabelWidths[i],lengthAdjust:"spacingAndGlyphs"},g);
    t.textContent=n;
    
    
  });
})();
</script>
</body>
</html>
